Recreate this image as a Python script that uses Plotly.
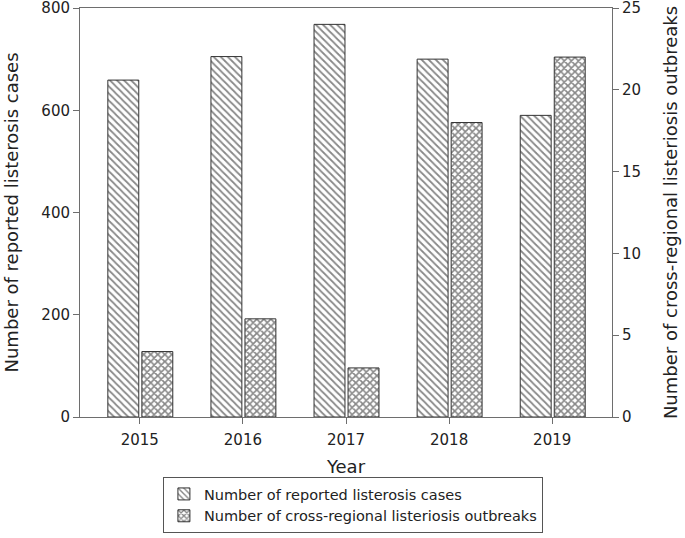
import plotly.graph_objects as go

years = ["2015", "2016", "2017", "2018", "2019"]
cases = [659, 705, 768, 700, 590]
outbreaks = [4, 6, 3, 18, 22]
left_ticks = [0, 200, 400, 600, 800]
right_ticks = [0, 5, 10, 15, 20, 25]

FONT = "DejaVu Sans"
AX = "#6e6e6e"
idx = list(range(len(years)))

fig = go.Figure()
fig.add_trace(go.Bar(
    x=idx, y=cases, name="Number of reported listerosis cases",
    width=0.3, offset=-0.31,
    marker=dict(color="white", line=dict(color="#333", width=1),
                pattern=dict(shape="\\", fgcolor="#111", bgcolor="white",
                             size=5, solidity=0.35, fillmode="overlay")),
    yaxis="y"))
fig.add_trace(go.Bar(
    x=idx, y=outbreaks, name="Number of cross-regional listeriosis outbreaks",
    width=0.3, offset=0.02,
    marker=dict(color="white", line=dict(color="#333", width=1),
                pattern=dict(shape="x", fgcolor="#111", bgcolor="white",
                             size=5, solidity=0.55, fillmode="overlay")),
    yaxis="y2"))

fig.update_layout(
    width=685, height=538,
    margin=dict(l=80, r=73, t=8, b=121),
    paper_bgcolor="white", plot_bgcolor="white",
    font=dict(family=FONT, size=15, color="#222"),
    barmode="overlay",
    showlegend=True,
    legend=dict(x=0.513, y=1 - 477 / 538, yref="container",
                xanchor="center", yanchor="top",
                bordercolor="#555", borderwidth=1, bgcolor="white",
                font=dict(size=14.5), tracegroupgap=0, itemwidth=30),
    xaxis=dict(tickmode="array", tickvals=idx, ticktext=years,
               range=[-0.58, 4.58], showline=True, linecolor=AX, linewidth=1,
               mirror=True, ticks="outside", ticklen=6, tickcolor=AX,
               showgrid=False, zeroline=False, automargin=False,
               ticklabelstandoff=3,
               title=dict(text="Year", standoff=13)),
    yaxis=dict(range=[0, 800], tickvals=left_ticks, showline=True,
               linecolor=AX, linewidth=1, ticks="outside", ticklen=6,
               tickcolor=AX, showgrid=False, zeroline=False, automargin=False,
               ticklabeloverflow="allow",
               title=dict(text="Number of reported listerosis cases", standoff=18)),
    yaxis2=dict(range=[0, 25], tickvals=right_ticks, overlaying="y", side="right",
                showline=True, linecolor=AX, linewidth=1, ticks="outside",
                ticklen=6, tickcolor=AX, showgrid=False, zeroline=False,
                automargin=False, ticklabeloverflow="allow",
                title=dict(text="Number of cross-regional listeriosis outbreaks",
                           standoff=24)),
)

fig.write_html("out.html", config={"displayModeBar": False},
               post_script="document.body.style.margin='0';document.body.style.overflow='hidden';")
